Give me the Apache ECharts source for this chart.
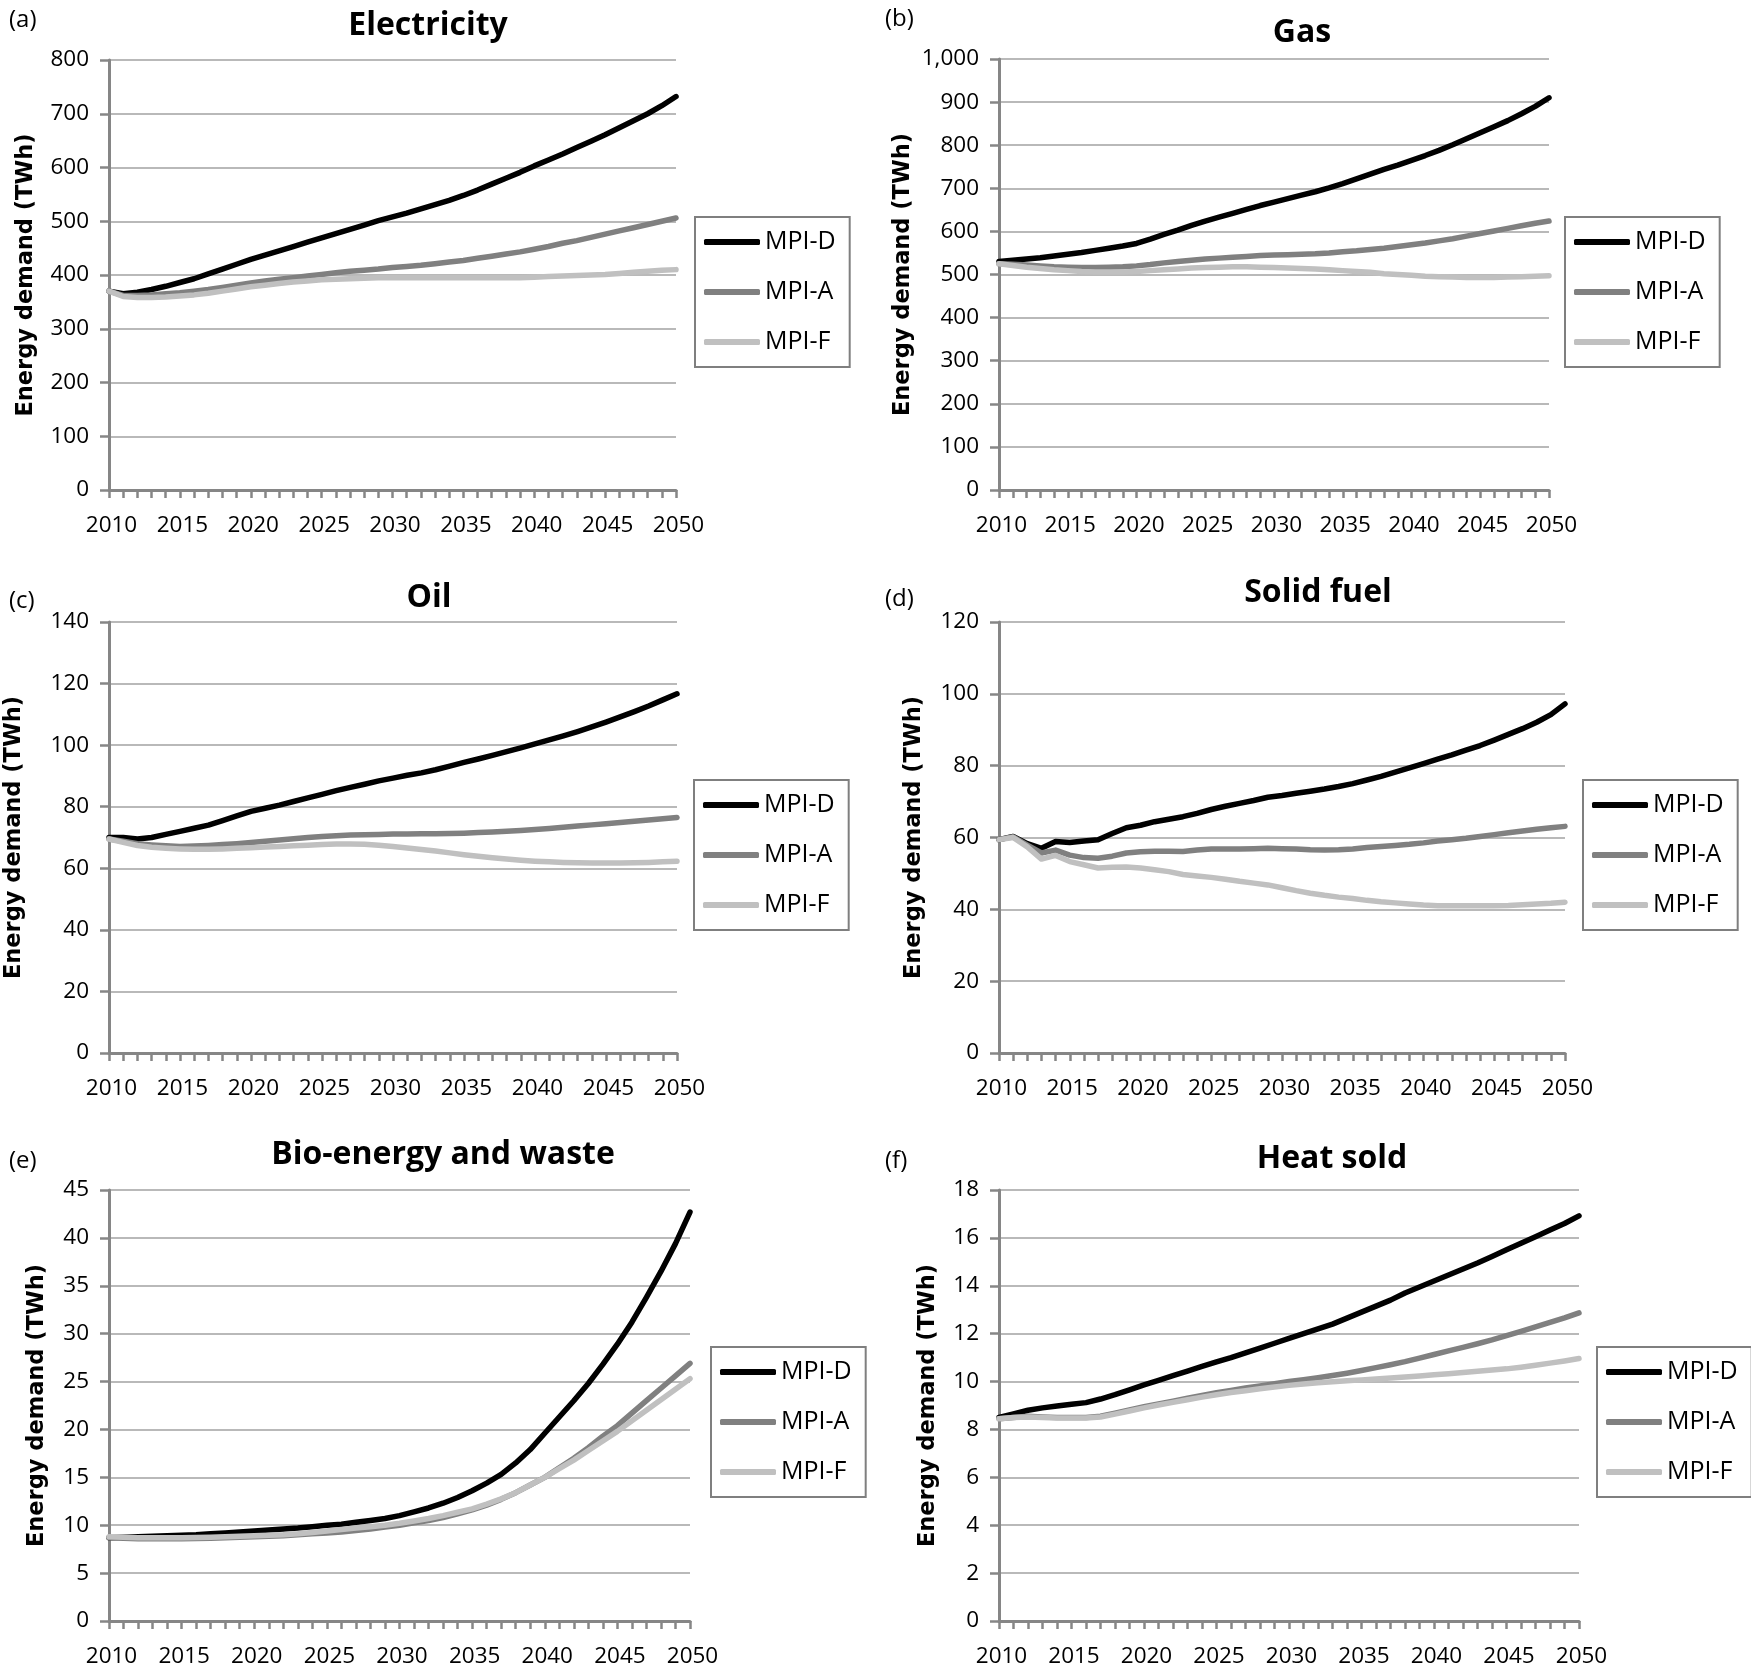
<!DOCTYPE html>
<html><head><meta charset="utf-8">
<script src="https://cdn.jsdelivr.net/npm/echarts/dist/echarts.min.js"></script>
<style>html,body{margin:0;padding:0;background:#fff}#c{width:1751px;height:1673px}</style>
</head><body><div id="c"></div>
<script>
const years = ['2010','2011','2012','2013','2014','2015','2016','2017','2018','2019',
  '2020','2021','2022','2023','2024','2025','2026','2027','2028','2029',
  '2030','2031','2032','2033','2034','2035','2036','2037','2038','2039',
  '2040','2041','2042','2043','2044','2045','2046','2047','2048','2049','2050'];
const seriesNames = ['MPI-D', 'MPI-A', 'MPI-F'];
const panelTitles = ['Electricity', 'Gas', 'Oil', 'Solid fuel', 'Bio-energy and waste', 'Heat sold'];
const panelTags = ['(a)', '(b)', '(c)', '(d)', '(e)', '(f)'];
const yAxisTitle = 'Energy demand (TWh)';
const yMax = [800, 1000, 140, 120, 45, 18];
const yStep = [100, 100, 20, 20, 5, 2];

const elecD = [370,365,368,373,379,386,393,402,411,420, 429,437,445,453,461,469,477,485,493,501, 508,515,523,531,539,548,558,569,580,591, 603,614,625,637,649,661,674,687,700,715, 732];
const elecA = [370,362,362,363,365,367,370,373,377,381, 385,389,392,395,398,401,404,407,409,411, 414,416,418,421,424,427,431,435,439,443, 448,453,459,464,470,476,482,488,494,500, 506];
const elecF = [370,360,358,358,359,361,363,366,370,374, 378,381,384,387,389,391,392,393,394,395, 395,395,395,395,395,395,395,395,395,395, 396,397,398,399,400,401,403,405,407,409, 410];

const gasD = [530,533,536,539,543,547,551,556,561,566, 572,582,593,603,614,624,633,642,651,660, 668,676,684,692,701,711,722,733,744,754, 765,776,788,801,815,829,843,857,873,890, 910];
const gasA = [525,524,522,520,518,517,516,516,517,518, 520,523,527,530,533,536,538,540,542,544, 545,546,547,548,550,553,555,558,561,565, 569,573,578,583,589,595,601,607,613,619, 624];
const gasF = [525,521,517,514,511,509,507,506,506,506, 507,509,511,513,515,516,517,518,518,517, 516,515,514,513,511,509,507,505,502,500, 498,496,495,494,493,493,493,494,495,496, 497];

const oilD = [70,70,69.5,70,71,72,73,74,75.5,77, 78.5,79.5,80.5,81.7,82.9,84,85.2,86.3,87.3,88.4, 89.3,90.2,91,92,93.2,94.4,95.5,96.7,97.9,99.1, 100.4,101.7,103,104.4,105.9,107.5,109.2,110.9,112.7,114.7, 116.7];
const oilA = [69.5,68.8,68,67.6,67.3,67.1,67.2,67.4,67.7,68, 68.4,68.8,69.2,69.6,70,70.3,70.6,70.8,70.9,71, 71.1,71.1,71.2,71.2,71.3,71.4,71.6,71.8,72,72.3, 72.6,72.9,73.3,73.7,74.1,74.5,74.9,75.3,75.7,76.1, 76.5];
const oilF = [69.5,68.4,67.4,66.8,66.5,66.3,66.2,66.2,66.3,66.5, 66.7,66.9,67.1,67.3,67.5,67.7,67.9,67.9,67.8,67.5, 67.1,66.6,66.1,65.6,65,64.4,63.9,63.4,63,62.6, 62.3,62.1,61.9,61.8,61.7,61.7,61.7,61.8,61.9,62.1, 62.3];

const solidD = [59.4,60.3,58.3,57,58.9,58.6,59,59.4,61.1,62.7, 63.4,64.4,65.1,65.8,66.7,67.8,68.7,69.5,70.3,71.2, 71.7,72.3,72.9,73.5,74.2,75,76,77,78.2,79.4, 80.6,81.8,83,84.3,85.6,87.1,88.7,90.3,92.1,94.2, 97.2];
const solidA = [59.4,60.2,57.9,55.7,56.5,55.1,54.4,54.2,54.8,55.7, 56,56.2,56.2,56.1,56.5,56.8,56.8,56.8,56.9,57, 56.9,56.8,56.6,56.5,56.6,56.8,57.2,57.5,57.8,58.1, 58.5,59,59.4,59.8,60.3,60.8,61.3,61.8,62.3,62.7, 63.1];
const solidF = [59.4,60,57.4,54,55,53.3,52.4,51.5,51.7,51.8, 51.5,51,50.5,49.7,49.3,48.9,48.4,47.8,47.3,46.8, 46,45.2,44.5,43.9,43.4,43,42.5,42.1,41.8,41.5, 41.2,41,41,41,41,41,41.1,41.3,41.5,41.7, 42];

const bioD = [8.7,8.75,8.8,8.85,8.9,8.95,9.0,9.1,9.2,9.3, 9.4,9.5,9.6,9.7,9.85,10.0,10.1,10.3,10.5,10.7, 11.0,11.4,11.8,12.3,12.9,13.6,14.4,15.3,16.5,17.9, 19.6,21.3,23.0,24.8,26.8,28.9,31.2,33.8,36.5,39.4, 42.7];
const bioA = [8.7,8.65,8.6,8.6,8.6,8.6,8.62,8.65,8.7,8.75, 8.8,8.85,8.9,9.0,9.1,9.2,9.3,9.45,9.6,9.8, 10.0,10.25,10.5,10.8,11.2,11.6,12.1,12.7,13.4,14.2, 15.0,16.0,17.0,18.1,19.3,20.4,21.7,23.0,24.3,25.6, 26.9];
const bioF = [8.8,8.75,8.7,8.7,8.7,8.7,8.72,8.75,8.8,8.85, 8.9,8.95,9.0,9.1,9.25,9.4,9.55,9.7,9.85,10.0, 10.2,10.45,10.7,11.0,11.35,11.7,12.2,12.75,13.4,14.2, 15.0,15.9,16.8,17.8,18.8,19.8,20.9,22.0,23.1,24.2, 25.3];

const heatD = [8.5,8.65,8.8,8.9,8.98,9.05,9.12,9.27,9.45,9.65, 9.86,10.05,10.25,10.44,10.63,10.82,11.0,11.2,11.4,11.6, 11.8,12.0,12.2,12.4,12.65,12.9,13.15,13.4,13.7,13.95, 14.2,14.45,14.7,14.95,15.22,15.5,15.78,16.05,16.33,16.6, 16.92];
const heatA = [8.45,8.5,8.55,8.52,8.5,8.5,8.5,8.55,8.68,8.82, 8.95,9.07,9.18,9.3,9.42,9.53,9.63,9.73,9.82,9.91, 10.0,10.08,10.16,10.25,10.35,10.46,10.58,10.7,10.83,10.98, 11.13,11.28,11.43,11.58,11.74,11.92,12.1,12.28,12.47,12.66, 12.87];
const heatF = [8.45,8.5,8.52,8.5,8.48,8.48,8.48,8.52,8.64,8.77, 8.9,9.02,9.13,9.24,9.35,9.45,9.54,9.62,9.7,9.77, 9.84,9.9,9.95,9.99,10.03,10.07,10.11,10.15,10.19,10.23, 10.28,10.33,10.38,10.43,10.48,10.53,10.6,10.68,10.77,10.86, 10.96];

const panelData = [
  [elecD, elecA, elecF],
  [gasD, gasA, gasF],
  [oilD, oilA, oilF],
  [solidD, solidA, solidF],
  [bioD, bioA, bioF],
  [heatD, heatA, heatF]
];

// layout (pixels)
const layout = [
  {l:109, t:60,   w:567, h:430, tx:428,  ty:27,   gx:9,   gy:21,   ng:70, lx:695,  ly:217},
  {l:999, t:59,   w:550, h:431, tx:1302, ty:34,   gx:885, gy:20,   ng:83, lx:1565, ly:217},
  {l:109, t:622,  w:568, h:431, tx:429,  ty:599,  gx:9,   gy:602,  ng:82, lx:694,  ly:780},
  {l:999, t:622,  w:566, h:431, tx:1318, ty:594,  gx:885, gy:600,  ng:72, lx:1583, ly:780},
  {l:109, t:1190, w:581, h:431, tx:443,  ty:1156, gx:9,   gy:1162, ng:59, lx:711,  ly:1347},
  {l:999, t:1190, w:580, h:431, tx:1332, ty:1160, gx:885, gy:1162, ng:58, lx:1597, ly:1347}
];

const colors = ['#000000', '#808080', '#c0c0c0'];
const FONT = '"Open Sans", "Noto Sans", sans-serif';
const axisColor = '#868686';

function fmt(v) { return String(v).replace(/\B(?=(\d{3})+(?!\d))/g, ','); }

const titles = [];
layout.forEach((p, i) => {
  titles.push({
    text: panelTitles[i], left: p.tx, top: p.ty - 21, textAlign: 'center', padding: 0,
    textStyle: {fontFamily: FONT, fontWeight: 'bold', fontSize: 32, lineHeight: 40, color: '#000'}
  });
  titles.push({
    text: panelTags[i], left: p.gx, top: p.gy - 16, padding: 0,
    textStyle: {fontFamily: FONT, fontWeight: 'normal', fontSize: 24, lineHeight: 30, color: '#000'}
  });
});

const option = {
  backgroundColor: '#ffffff',
  animation: false,
  title: titles,
  grid: layout.map(p => ({left: p.l, top: p.t, width: p.w, height: p.h, containLabel: false})),
  xAxis: layout.map((p, i) => ({
    type: 'category', gridIndex: i, data: years, boundaryGap: false,
    axisLine: {show: true, lineStyle: {color: axisColor, width: 3}},
    axisTick: {show: true, interval: 0, length: 8, lineStyle: {color: axisColor, width: 2.5}},
    axisLabel: {interval: 4, margin: 24, fontFamily: FONT, fontSize: 22.5, lineHeight: 24, color: '#000', padding: [0, 0, 0, 5]},
    splitLine: {show: false}
  })),
  yAxis: layout.map((p, i) => ({
    type: 'value', gridIndex: i, min: 0, max: yMax[i], interval: yStep[i],
    axisLine: {show: true, lineStyle: {color: axisColor, width: 3}},
    axisTick: {show: true, length: 9, lineStyle: {color: axisColor, width: 2.5}},
    axisLabel: {margin: 20, fontFamily: FONT, fontSize: 22.5, color: '#000', formatter: fmt},
    splitLine: {show: true, lineStyle: {color: '#b9b9b9', width: 2}},
    name: yAxisTitle, nameLocation: 'middle', nameGap: p.ng,
    nameTextStyle: {fontFamily: '"DejaVu Sans", sans-serif', fontWeight: 'bold', fontSize: 22.5, lineHeight: 26, color: '#000'}
  })),
  legend: layout.map(p => ({
    left: p.lx, top: p.ly, orient: 'vertical', data: seriesNames, icon: 'roundRect',
    itemWidth: 56, itemHeight: 6, itemGap: 24, padding: [12, 14, 12, 9],
    borderColor: '#7f7f7f', borderWidth: 2, backgroundColor: '#fff', selectedMode: false,
    textStyle: {fontFamily: FONT, fontSize: 25, lineHeight: 26, color: '#000'}
  })),
  series: []
};

panelData.forEach((set, i) => {
  set.forEach((vals, j) => {
    option.series.push({
      type: 'line', name: seriesNames[j], xAxisIndex: i, yAxisIndex: i, data: vals,
      symbol: 'none', silent: true, z: 3 + j,
      lineStyle: {width: 5.5, color: colors[j], cap: 'round', join: 'round'},
      itemStyle: {color: colors[j]}
    });
  });
});

const chart = echarts.init(document.getElementById('c'), null, {renderer: 'canvas'});
chart.setOption(option);
</script>
</body></html>
